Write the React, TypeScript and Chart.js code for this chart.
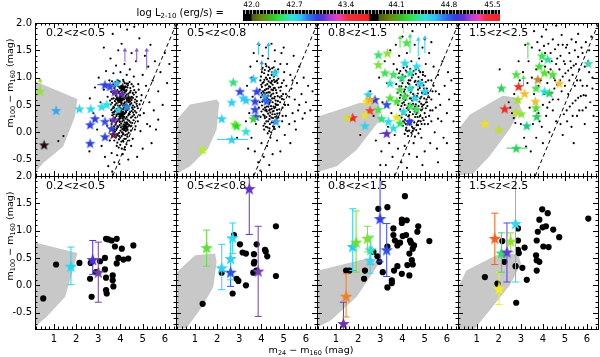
import { useEffect, useRef } from 'react';
import { Chart, registerables } from 'chart.js';
Chart.register(...registerables);

// ---------------- data ----------------
const panelLabels = ['0.2<z<0.5', '0.5<z<0.8', '0.8<z<1.5', '1.5<z<2.5'];
const cbarLabels = ['42.0', '42.7', '43.4', '44.1', '44.8', '45.5'];
const X_MIN = 0.15, X_MAX = 6.5, Y_MIN = -0.8, Y_MAX = 2.0;
const dashLineX = [3.65, 6.53];
const dashLineY = [-0.8, 2.0];

// gray model regions [x, y]
const grayTop1 = [[0, 0.96], [2.06, 0.61], [1.95, 0.29], [1.42, -0.26], [0.52, -0.56], [0.15, -0.74], [0, -0.76]];
const grayBot1 = [[0, 0.8], [2.06, 0.59], [1.85, 0.27], [1.51, -0.21], [0.67, -0.58], [0.15, -0.76], [0, -0.78]];
const grayTop2 = [[0, 0.2], [0.18, 0.23], [0.78, 0.51], [1.98, 0.6], [2.1, 0.54], [1.98, 0.05], [1.6, -0.29], [0.78, -0.62], [0.18, -0.76], [0, -0.78]];
const grayBot2 = [[0, 0.2], [0.18, 0.24], [1.01, 0.55], [1.91, 0.58], [1.98, 0.43], [1.83, -0.03], [1.31, -0.4], [0.63, -0.78], [0, -0.8]];
const grayTop3 = [[0, 0.28], [0.21, 0.29], [2.09, 0.54], [2.91, 0.54], [2.99, 0.23], [1.94, -0.32], [1.04, -0.62], [0.21, -0.72], [0, -0.75]];
const grayBot3 = [[0, 0.26], [0.21, 0.27], [2.39, 0.49], [2.99, 0.43], [1.94, -0.21], [0.78, -0.64], [0.21, -0.76], [0, -0.78]];
const grayTop4 = [[0, 0.02], [0.16, 0.05], [0.68, 0.32], [2.18, 0.67], [2.86, 0.63], [3.01, 0.42], [2.48, 0.05], [1.58, -0.44], [0.83, -0.76], [0, -0.8]];
const grayBot4 = [[0, -0.08], [0.16, -0.03], [0.53, 0.27], [1.88, 0.55], [2.86, 0.58], [3.01, 0.4], [2.5, 0.0], [1.6, -0.45], [0.9, -0.8], [0, -0.8]];

// small black dots, top row: flat x,y pairs
const dotsTop1 = [
  3.96,0.93, 4.12,0.96, 4.27,0.89, 3.81,0.87, 4.41,0.92, 4.04,0.85, 4.19,0.9, 3.88,0.95,
  3.72,0.81, 3.86,0.77, 4.01,0.83, 4.16,0.78, 4.31,0.82, 4.46,0.76, 4.58,0.84, 3.93,0.74, 4.09,0.73, 4.24,0.75,
  3.66,0.71, 3.79,0.67, 3.91,0.72, 4.03,0.65, 4.13,0.7, 4.23,0.66, 4.36,0.71, 4.51,0.65, 4.69,0.73, 3.84,0.64,
  3.61,0.61, 3.75,0.57, 3.87,0.63, 3.98,0.56, 4.09,0.62, 4.19,0.55, 4.29,0.61, 4.41,0.56, 4.56,0.63, 4.74,0.57, 4.07,0.59,
  3.56,0.51, 3.69,0.47, 3.81,0.53, 3.93,0.46, 4.04,0.52, 4.15,0.45, 4.26,0.51, 4.37,0.47, 4.49,0.53, 4.63,0.46, 4.86,0.51, 3.98,0.49, 4.2,0.48,
  3.59,0.41, 3.71,0.37, 3.83,0.43, 3.95,0.36, 4.07,0.42, 4.18,0.35, 4.3,0.41, 4.43,0.37, 4.56,0.42, 4.71,0.36, 4.01,0.39, 4.12,0.38,
  3.63,0.31, 3.76,0.27, 3.89,0.33, 4.01,0.26, 4.12,0.32, 4.23,0.25, 4.35,0.31, 4.47,0.27, 4.61,0.32, 3.95,0.29, 4.17,0.28,
  3.67,0.21, 3.8,0.17, 3.91,0.23, 4.03,0.16, 4.14,0.22, 4.26,0.15, 4.39,0.21, 4.53,0.17, 3.97,0.19, 4.08,0.2,
  3.71,0.11, 3.84,0.07, 3.96,0.13, 4.08,0.06, 4.2,0.12, 4.32,0.05, 4.46,0.11, 4.02,0.09,
  3.75,0.01, 3.88,-0.03, 4.0,0.03, 4.11,-0.04, 4.24,0.02, 4.37,-0.01, 3.94,-0.01,
  3.79,-0.09, 3.93,-0.13, 4.05,-0.07, 4.17,-0.12, 4.31,-0.08,
  3.86,-0.19, 3.99,-0.23, 4.13,-0.17, 4.27,-0.22, 3.72,-0.15,
  3.9,0.9, 4.33,0.86, 4.5,0.88, 3.76,0.84, 4.08,0.8, 4.22,0.84, 3.7,0.75, 4.0,0.7, 4.28,0.69, 4.43,0.73,
  4.6,0.69, 3.8,0.6, 3.93,0.59, 4.15,0.6, 4.35,0.58, 4.5,0.59, 4.66,0.6, 3.62,0.54, 3.76,0.5, 3.88,0.49,
  4.1,0.49, 4.31,0.49, 4.43,0.51, 4.56,0.49, 4.75,0.48, 3.65,0.44, 3.77,0.4, 3.9,0.39, 4.13,0.43, 4.24,0.39,
  4.37,0.43, 4.5,0.39, 4.65,0.39, 3.7,0.33, 3.82,0.3, 4.06,0.29, 4.28,0.28, 4.41,0.33, 4.54,0.29, 3.74,0.24,
  3.85,0.2, 3.97,0.25, 4.19,0.18, 4.32,0.23, 4.45,0.18, 3.78,0.14, 3.9,0.1, 4.14,0.14, 4.26,0.08, 4.39,0.13,
  3.81,0.04, 4.06,0.0, 4.18,0.04, 4.3,-0.04, 3.85,-0.06, 3.99,-0.1, 4.11,-0.15, 4.24,-0.12, 3.92,-0.28, 4.06,-0.3, 4.2,-0.27,
  3.58,0.74, 3.64,0.36, 3.69,0.62, 3.73,0.05, 3.77,0.92, 3.82,0.33, 3.86,0.11, 3.89,0.58, 3.94,-0.07, 3.97,0.81,
  4.01,0.44, 4.04,-0.17, 4.07,0.68, 4.1,0.25, 4.14,0.93, 4.16,0.52, 4.21,-0.05, 4.25,0.37, 4.27,0.77, 4.33,0.15,
  4.36,0.55, 4.39,-0.15, 4.42,0.64, 4.47,0.03, 4.52,0.45, 4.55,0.72, 4.59,0.22, 4.64,0.55, 4.68,0.11, 4.73,0.65,
  4.78,0.44, 4.82,0.78, 4.88,0.31, 4.93,0.58, 3.53,0.58, 3.57,0.21, 3.62,0.93, 3.66,-0.07, 3.71,0.45, 3.79,0.71,
  3.83,-0.25, 3.91,0.84, 3.96,0.2, 4.0,0.61, 4.09,0.36, 4.12,-0.02, 4.18,0.73, 4.22,0.46, 4.29,0.18, 4.34,0.89,
  4.38,0.34, 4.44,0.81, 4.49,0.12, 4.57,0.36, 4.62,0.77, 4.67,0.27, 4.72,0.52, 3.6,0.15, 3.68,0.88, 3.74,0.38,
  2.62,0.62, 2.78,0.35, 2.85,0.82, 2.95,0.05, 3.02,1.0, 3.1,0.55, 3.15,-0.25, 3.2,0.3, 3.25,0.78, 3.3,-0.45,
  3.35,1.12, 3.4,0.12, 3.42,0.65, 3.45,-0.62, 3.5,0.95, 3.52,-0.15, 3.55,1.35, 3.6,-0.38, 3.63,-0.72, 3.68,1.08,
  3.72,-0.55, 3.8,1.22, 3.85,-0.42, 3.9,1.5, 3.95,-0.58, 4.0,1.1, 4.05,1.62, 4.1,-0.4, 4.18,1.25, 4.2,-0.32,
  4.28,1.05, 4.3,1.88, 4.35,-0.5, 4.42,1.15, 4.48,-0.25, 4.5,1.45, 4.55,-0.12, 4.6,1.02, 4.65,0.05, 4.7,1.3,
  4.78,0.2, 4.8,0.88, 4.85,1.72, 4.9,0.02, 4.95,0.68, 5.0,1.05, 5.05,0.35, 5.1,1.4, 5.15,0.85, 5.2,0.15,
  5.25,1.2, 5.3,0.55, 5.35,1.6, 5.45,0.95, 5.5,0.4, 5.55,1.3, 5.6,0.05, 5.7,0.75, 5.8,1.1, 5.9,0.5,
  6.0,1.45, 6.1,0.9, 6.2,1.25, 5.4,-0.2, 5.0,-0.3, 4.75,-0.45, 3.25,1.55, 3.65,1.8, 4.62,1.93,
  1.43,-0.07, 1.2,-0.16, 2.6,-0.35, 5.33,0.11, 5.7,0.23,
];
const dotsTop2 = [
  4.05,1.18, 4.22,1.21, 4.38,1.15, 4.55,1.19, 4.12,1.08, 4.3,1.05, 4.47,1.1, 4.64,1.06, 3.98,1.02,
  3.95,0.95, 4.1,0.92, 4.25,0.97, 4.4,0.91, 4.56,0.96, 4.72,0.9, 4.18,0.86, 4.34,0.84, 4.5,0.87, 4.02,0.83,
  3.92,0.78, 4.07,0.75, 4.22,0.79, 4.37,0.73, 4.52,0.77, 4.68,0.72, 4.85,0.76, 4.15,0.7, 4.3,0.67, 4.45,0.69, 4.6,0.65,
  3.97,0.64, 4.11,0.6, 4.26,0.63, 4.41,0.58, 4.57,0.62, 4.74,0.57, 4.92,0.61, 4.2,0.54, 4.35,0.52, 4.5,0.55, 4.66,0.5,
  4.02,0.49, 4.16,0.45, 4.31,0.47, 4.46,0.43, 4.62,0.46, 4.8,0.42, 4.24,0.38, 4.4,0.36, 4.55,0.39, 4.71,0.34,
  4.08,0.32, 4.22,0.28, 4.37,0.3, 4.52,0.26, 4.68,0.29, 4.3,0.2, 4.46,0.18, 4.61,0.21, 4.15,0.16,
  4.2,0.1, 4.36,0.07, 4.52,0.11, 4.28,-0.02, 4.44,0.0,
  4.15,1.14, 4.32,1.12, 4.48,1.17, 4.62,1.13, 4.02,1.1, 4.2,1.0, 4.38,0.99, 4.56,1.02, 4.05,0.9, 4.32,0.93,
  4.47,0.94, 4.64,0.93, 4.0,0.72, 4.15,0.77, 4.3,0.8, 4.45,0.78, 4.6,0.81, 4.78,0.82, 4.04,0.56, 4.18,0.62,
  4.33,0.6, 4.48,0.62, 4.64,0.58, 4.82,0.64, 4.08,0.42, 4.24,0.47, 4.38,0.42, 4.54,0.47, 4.7,0.41, 4.15,0.26,
  4.3,0.34, 4.45,0.27, 4.6,0.33, 4.76,0.27, 4.22,0.2, 4.38,0.15, 4.54,0.18, 4.12,0.05, 4.35,0.02, 4.6,0.06,
  4.92,0.9, 5.0,0.6, 4.95,0.45, 5.1,0.3, 5.12,0.85, 5.25,0.65, 5.4,0.95, 5.5,0.2, 5.7,0.5, 5.95,0.35,
  3.92,0.55, 3.96,0.28, 4.01,1.15, 4.04,0.68, 4.09,0.12, 4.13,0.96, 4.17,0.4, 4.19,1.25, 4.23,0.72, 4.27,0.09,
  4.29,0.57, 4.33,1.19, 4.36,0.24, 4.39,0.83, 4.43,0.48, 4.46,1.05, 4.49,0.33, 4.53,0.71, 4.57,0.1, 4.59,0.92,
  4.63,0.52, 4.66,1.1, 4.69,0.25, 4.73,0.66, 4.76,0.98, 4.81,0.35, 4.84,0.55, 4.88,0.83, 4.93,0.2, 4.97,0.7,
  5.02,1.1, 5.06,0.5, 4.12,0.72, 4.26,0.88, 4.41,0.66, 4.55,0.81, 4.7,0.95, 4.08,0.59, 4.22,0.41, 4.37,0.55,
  4.51,0.38, 4.65,0.77, 3.99,0.87, 4.14,0.3, 4.31,0.73, 4.44,0.9, 4.58,0.44, 4.74,0.5, 4.9,0.66, 4.0,0.38,
  4.35,0.4, 4.62,0.28,
  3.35,0.85, 3.45,0.35, 3.5,1.2, 3.55,-0.1, 3.6,0.65, 3.65,1.45, 3.7,-0.35, 3.75,0.15, 3.8,1.3, 3.85,-0.55,
  3.88,0.45, 3.9,1.6, 4.0,-0.2, 4.05,1.4, 4.1,-0.45, 4.2,1.55, 4.25,-0.25, 4.3,1.35, 4.4,-0.1, 4.45,1.62,
  4.5,-0.4, 4.6,1.3, 4.7,-0.15, 4.75,1.15, 4.8,0.1, 4.9,1.45, 4.95,0.3, 5.0,0.95, 5.05,-0.05, 5.1,0.7,
  5.15,1.25, 5.2,0.5, 5.25,0.15, 5.3,1.05, 5.35,0.8, 5.4,0.35, 5.45,1.4, 5.5,0.6, 5.55,0.05, 5.6,0.9,
  5.65,0.4, 5.7,1.2, 5.8,0.7, 5.85,0.25, 5.9,1.0, 6.0,0.55, 6.1,0.85, 6.2,0.4, 6.3,0.75, 5.0,1.55,
  3.95,-0.7, 4.35,-0.6, 3.3,0.2, 3.4,-0.3, 5.3,-0.2, 4.85,-0.35, 3.55,1.0, 4.6,1.5, 4.85,1.25, 2.9,-0.1,
];
const dotsTop3 = [
  3.75,1.15, 3.9,1.12, 4.05,1.18, 4.2,1.1, 4.35,1.16, 4.5,1.12, 4.65,1.19, 4.8,1.1, 3.82,1.0, 3.98,0.96,
  4.12,1.02, 4.28,0.95, 4.42,1.0, 4.58,0.94, 4.72,1.01, 4.88,0.96, 5.02,1.03,
  3.72,0.88, 3.86,0.84, 4.0,0.9, 4.15,0.83, 4.3,0.88, 4.46,0.82, 4.62,0.87, 4.78,0.81, 4.95,0.86, 5.1,0.8,
  3.78,0.72, 3.92,0.68, 4.07,0.74, 4.22,0.67, 4.37,0.73, 4.53,0.66, 4.69,0.71, 4.85,0.65, 5.02,0.7, 5.2,0.64,
  3.84,0.57, 3.99,0.53, 4.13,0.59, 4.28,0.52, 4.44,0.58, 4.6,0.51, 4.76,0.56, 4.93,0.5, 5.1,0.55,
  3.9,0.42, 4.05,0.38, 4.19,0.44, 4.34,0.37, 4.5,0.43, 4.66,0.36, 4.83,0.41, 5.0,0.35,
  3.96,0.27, 4.11,0.23, 4.26,0.29, 4.41,0.22, 4.57,0.28, 4.73,0.21, 4.9,0.26,
  4.02,0.12, 4.17,0.08, 4.32,0.14, 4.48,0.07, 4.64,0.13, 4.8,0.06,
  4.1,-0.03, 4.25,-0.07, 4.4,-0.01, 4.56,-0.08, 4.72,-0.02,
  3.85,1.08, 4.0,1.05, 4.15,1.13, 4.32,1.06, 4.47,1.05, 4.6,1.07, 4.75,1.13, 4.92,1.1, 3.95,0.84, 4.1,0.78,
  4.24,0.9, 4.4,0.78, 4.55,0.92, 4.7,0.78, 4.87,0.9, 5.05,0.92, 3.88,0.63, 4.04,0.62, 4.18,0.66, 4.33,0.62,
  4.48,0.7, 4.63,0.6, 4.8,0.62, 4.98,0.62, 5.15,0.72, 3.95,0.48, 4.1,0.5, 4.25,0.46, 4.4,0.5, 4.56,0.47,
  4.72,0.48, 4.88,0.47, 5.05,0.44, 4.0,0.33, 4.16,0.32, 4.3,0.31, 4.47,0.33, 4.62,0.33, 4.8,0.3, 4.95,0.22,
  4.08,0.18, 4.22,0.2, 4.38,0.18, 4.53,0.18, 4.7,0.13, 4.86,0.15, 4.15,0.04, 4.3,0.03, 4.46,0.02, 4.62,0.04,
  5.2,0.3, 5.3,0.6, 5.4,0.85, 5.5,0.45, 5.6,0.25, 5.65,0.7,
  3.8,0.5, 3.93,0.95, 4.03,0.2, 4.12,0.7, 4.2,1.2, 4.27,0.41, 4.35,0.95, 4.43,0.1, 4.52,0.62, 4.6,1.15,
  4.68,0.28, 4.76,0.85, 4.84,0.52, 4.92,1.05, 5.0,0.15, 5.08,0.6, 5.16,0.95, 5.25,0.4, 4.06,0.55, 4.22,0.02,
  4.38,0.62, 4.55,0.38, 4.71,0.93, 4.88,0.72, 5.05,0.28, 3.86,0.3, 4.0,1.0, 4.15,0.15, 4.31,0.78, 4.48,0.52,
  4.65,0.66, 4.82,0.2, 4.97,0.8, 5.12,0.48, 5.3,0.2, 5.35,0.75,
  2.55,0.75, 2.7,0.3, 2.8,-0.15, 2.95,1.0, 3.05,-0.35, 3.1,0.55, 3.2,1.3, 3.25,-0.6, 3.3,0.9, 3.4,-0.2,
  3.45,1.5, 3.5,0.35, 3.55,-0.45, 3.6,1.25, 3.65,-0.05, 3.7,1.6, 3.8,-0.3, 3.85,1.4, 3.95,-0.55, 4.0,1.75,
  4.1,-0.25, 4.2,1.45, 4.3,-0.4, 4.4,1.3, 4.5,-0.2, 4.55,1.6, 4.65,-0.45, 4.75,1.35, 4.85,-0.1, 4.9,1.55,
  5.0,-0.35, 5.05,1.25, 5.15,0.15, 5.2,1.45, 5.25,-0.2, 5.3,0.95, 5.35,0.4, 5.4,1.2, 5.45,0.0, 5.5,0.75,
  5.55,-0.3, 5.6,1.05, 5.7,0.5, 5.75,0.2, 5.8,1.3, 5.85,-0.1, 5.9,0.85, 6.0,0.35, 6.05,1.1, 6.1,0.6,
  6.2,0.95, 6.3,0.2, 6.35,0.7, 5.0,1.7, 4.45,1.85, 5.3,1.65, 3.35,0.1, 2.1,-0.05, 3.0,-0.6, 4.2,-0.65,
  5.6,-0.55, 4.9,-0.6, 6.0,-0.2,
];
const dotsTop4 = [
  4.4,0.72, 4.52,0.8, 4.65,0.87, 4.78,0.95, 4.9,1.02, 5.02,1.08, 5.15,1.13, 5.28,1.18, 5.4,1.22, 5.5,1.25,
  4.95,0.33, 5.08,0.4, 5.22,0.47, 5.35,0.53, 5.48,0.58, 5.6,0.63, 5.72,0.66, 5.85,0.68, 5.95,0.67,
  2.45,0.55, 2.52,0.45, 2.6,0.35, 2.68,0.26, 2.75,0.17,
  2.04,1.15, 3.24,-0.26, 3.5,1.55, 3.6,1.85, 3.75,1.65, 3.85,1.5, 3.95,1.75, 4.05,1.58, 4.15,1.88, 4.25,1.62,
  4.35,1.45, 4.45,1.7, 4.55,1.52, 4.6,1.25, 4.7,1.6, 4.8,1.4, 4.85,1.78, 4.95,1.3, 5.05,1.55, 5.2,1.45,
  5.3,1.7, 5.45,1.5, 5.6,1.38, 5.75,1.55, 5.9,1.2, 6.1,1.5, 3.5,1.0, 3.6,0.7, 3.7,1.15, 3.8,0.35,
  3.9,0.95, 4.0,0.5, 4.1,1.2, 4.15,0.3, 4.2,0.9, 4.3,0.55, 4.35,1.15, 4.45,0.4, 4.5,1.0, 4.6,0.2,
  4.7,0.6, 4.8,0.15, 4.85,0.75, 5.0,0.85, 5.1,0.2, 5.2,0.95, 5.3,0.1, 5.45,0.85, 5.55,0.3, 5.7,0.95,
  5.8,0.4, 5.9,0.15, 6.0,0.85, 6.15,0.55, 6.25,1.0, 3.3,0.9, 3.4,0.45, 3.35,1.3, 3.1,1.1, 3.0,0.15,
  3.15,-0.1, 3.45,-0.35, 3.7,-0.1, 4.0,-0.2, 4.3,0.0, 3.95,0.1, 3.55,0.15, 4.9,-0.05, 5.4,-0.2, 2.9,1.3,
  3.2,1.6, 2.95,0.95, 5.6,1.8, 4.6,1.95, 4.05,0.7, 3.65,0.4, 3.85,0.2, 2.7,0.7,
  5.1,1.6, 5.25,1.3, 5.35,1.05, 5.5,1.65, 5.65,1.15, 5.8,1.45, 5.95,1.65, 6.05,1.3, 6.2,1.75, 5.0,1.25,
  4.75,1.15, 4.9,1.6, 5.55,0.95, 5.8,0.85, 6.1,1.1, 4.4,1.3, 4.25,1.1, 4.55,0.95, 4.65,1.35, 3.95,1.3,
  4.1,1.45, 3.8,0.85, 4.45,0.6, 4.2,0.45, 5.15,0.7, 5.35,0.3, 5.65,0.4, 5.95,0.45, 6.25,0.8, 6.3,0.3,
];

// large black dots, bottom row
const dotsBot1 = [
  0.52,-0.24, 1.1,0.38, 2.15,0.41, 2.66,0.41, 2.63,0.12, 2.7,-0.21, 2.9,0.24, 3.08,0.44, 3.3,0.5, 3.35,0.85,
  3.45,0.84, 3.6,0.82, 3.83,0.85, 3.75,0.71, 4.06,0.67, 4.58,0.73, 3.3,0.29, 3.35,0.14, 3.65,0.18, 3.65,0.09,
  3.68,-0.02, 3.35,-0.09, 3.38,-0.15, 3.83,0.4, 3.9,0.5, 4.13,0.47, 4.35,0.49,
];
const dotsBot2 = [
  1.35,-0.34, 2.21,0.23, 2.76,0.92, 3.03,0.75, 3.15,0.6, 3.3,0.58, 2.88,0.12, 2.96,0.08, 2.7,-0.15, 3.3,0.0,
  3.66,0.57, 3.68,0.43, 3.66,0.4, 3.63,0.23, 3.78,0.75, 4.16,0.65, 4.19,0.62, 4.26,0.53, 4.65,1.08, 4.65,0.17,
  3.77,0.27,
];
const dotsBot3 = [
  4.11,1.63, 2.91,1.4, 3.32,1.43, 3.97,1.2, 4.19,1.19, 4.71,1.08, 3.97,1.14, 3.59,1.04, 4.67,0.98, 5.21,0.81,
  3.59,0.92, 3.66,0.82, 4.01,0.9, 4.16,0.92, 4.34,0.82, 4.38,0.78, 3.89,0.78, 4.46,0.67, 4.31,0.58, 4.52,0.73,
  3.32,0.71, 2.69,0.61, 2.87,0.53, 2.96,0.43, 3.77,0.73, 4.42,0.46, 4.22,0.37, 4.46,0.38, 3.77,0.35, 3.62,0.27,
  3.52,0.09, 3.52,0.04, 3.32,-0.04, 3.97,0.21, 4.31,0.18, 3.11,0.24, 2.27,0.12, 2.31,0.27, 1.46,0.27, 1.61,0.27,
];
const dotsBot4 = [
  3.97,1.39, 4.22,1.32, 6.06,1.22, 3.84,1.2, 3.99,1.06, 4.14,1.08, 3.77,0.98, 4.47,1.02, 4.74,0.88, 3.72,0.82,
  4.02,0.71, 4.26,0.7, 2.87,1.04, 2.87,0.82, 2.87,0.65, 2.91,0.59, 3.17,0.69, 2.16,0.81, 2.25,0.43, 2.76,0.35,
  3.07,0.32, 3.69,0.55, 3.72,0.46, 3.84,0.43, 3.72,0.27, 3.27,0.1, 1.37,0.15, 1.94,0.03, 2.79,-0.32,
];

// stars, top row: [x, y, colour]
const starsTop1 = [
  [0.38, 0.75, '#90e040'], [1.1, 0.4, '#30a8f0'], [0.56, -0.23, '#200810'],
  [2.15, 0.43, '#30d8f0'], [2.66, 0.43, '#30d8f0'], [3.15, 0.47, '#30e0e8'], [3.38, 0.51, '#30e0e8'],
  [3.9, 0.41, '#30d0e8'], [3.83, 0.9, '#30b8f0'], [4.28, 0.47, '#2888f0'], [3.3, 0.87, '#3040e8'],
  [3.53, 0.84, '#3848e0'], [3.75, 0.74, '#6030b0'], [4.06, 0.7, '#6030b0'], [2.85, 0.25, '#3040e8'],
  [2.63, 0.14, '#3040e8'], [3.3, 0.2, '#3850f0'], [3.68, 0.23, '#6830b0'], [3.6, 0.07, '#3040e0'],
  [3.3, -0.08, '#3040e0'], [3.68, -0.04, '#602050'], [2.63, -0.2, '#3040e8'],
  [4.1, 0.82, '#000000'], [4.05, 0.33, '#000000'], [4.22, 0.1, '#000000'], [3.97, 0.6, '#000000'], [4.35, 0.62, '#101010'],
];
const starsTop2 = [
  [2.73, 0.92, '#30e080'], [3.03, 0.75, '#3048e8'], [3.18, 0.63, '#30d0f0'], [3.3, 0.59, '#30c8f0'],
  [2.66, 0.55, '#30d0f0'], [2.21, 0.25, '#30d0f0'], [2.8, 0.15, '#80e030'], [2.88, 0.12, '#20e020'],
  [3.3, 0.02, '#30e0d0'], [2.66, -0.13, '#30d0f0'], [1.35, -0.32, '#b0f020'], [3.79, 0.75, '#3040e8'],
  [3.71, 0.57, '#3040e8'], [3.71, 0.42, '#3048e8'], [3.75, 0.29, '#3050e8'], [3.63, 0.25, '#40d040'],
  [4.16, 0.66, '#30a0f0'], [4.23, 0.57, '#3060f0'], [4.61, 1.09, '#30d0f0'], [4.65, 0.2, '#30a0f0'],
  [3.63, 0.98, '#30c0f0'],
];
const starsTop3 = [
  [2.91, 1.42, '#40e070'], [3.32, 1.45, '#90e030'], [2.91, 1.24, '#80e040'], [4.19, 1.64, '#50e050'],
  [3.59, 1.06, '#40e060'], [3.97, 1.0, '#30e080'], [4.34, 1.09, '#30e0b0'], [4.79, 0.9, '#30d0f0'],
  [5.01, 0.75, '#30d0f0'], [3.89, 0.78, '#50e050'], [4.34, 0.81, '#30e0c0'], [4.56, 0.63, '#30d0f0'],
  [4.11, 0.66, '#40e050'], [3.74, 0.57, '#50e040'], [4.34, 0.48, '#40e060'], [4.04, 0.38, '#30d8e8'],
  [4.64, 0.42, '#40e060'], [2.46, 0.69, '#30d0f0'], [2.76, 0.6, '#3040e0'], [2.39, 0.57, '#f0e020'],
  [2.54, 0.6, '#f0b020'], [2.54, 0.4, '#f04020'], [2.31, 0.32, '#e8e030'], [1.76, 0.27, '#f02820'],
  [1.51, 0.27, '#d0e030'], [2.31, 0.12, '#30d0f0'], [2.91, 0.42, '#50e050'], [3.06, 0.25, '#30e070'],
  [3.36, 0.2, '#30d8f0'], [3.29, 0.51, '#3050f0'], [3.29, -0.02, '#6030c0'], [4.31, 0.2, '#3040f0'],
  [3.74, 0.28, '#e8e020'], [3.89, 0.17, '#30e060'], [3.59, 0.08, '#30e0e0'], [3.21, 1.09, '#40e050'],
  [3.44, 0.63, '#50e040'], [4.64, 1.21, '#30d8f0'], [4.11, 1.27, '#30d8e0'], [3.44, 0.9, '#30e0c0'],
];
const starsTop4 = [
  [2.12, 0.81, '#30d060'], [2.9, 0.84, '#f03020'], [2.87, 0.6, '#a0e020'], [3.17, 0.71, '#f0c030'],
  [2.27, 0.43, '#f02820'], [2.79, 0.37, '#c0e030'], [3.02, 0.34, '#90e040'], [1.37, 0.16, '#f0e020'],
  [2.01, 0.05, '#c0e030'], [3.27, 0.12, '#20c880'], [2.79, -0.29, '#30d060'], [3.72, 0.29, '#30d060'],
  [3.69, 0.45, '#50e040'], [3.66, 0.57, '#f0c030'], [2.79, 1.06, '#50e040'], [3.84, 1.21, '#40e040'],
  [3.96, 1.4, '#40e050'], [4.22, 1.34, '#30e0a0'], [3.77, 0.97, '#c08830'], [4.07, 1.09, '#60e030'],
  [4.07, 0.75, '#30e0e0'], [4.29, 0.72, '#30d060'], [4.44, 1.06, '#50e040'], [4.74, 0.9, '#f0c030'],
  [6.06, 1.26, '#40d8b0'], [3.69, 0.81, '#50e050'],
];

// upward arrows (limits): [x, base y, tip y, colour]
const arrowsTop1 = [[0.38, 0.78, 0.95, '#90e040'], [4.2, 1.29, 1.5, '#8060c8'], [4.73, 1.29, 1.5, '#8060c8'], [5.18, 1.15, 1.5, '#8060c8']];
const arrowsTop2 = [[3.86, 1.42, 1.62, '#40b0f0'], [4.31, 1.38, 1.6, '#40b0f0'], [4.01, 1.12, 1.27, '#4090f0']];
const arrowsTop3 = [[4.04, 1.82, 2.1, '#e0e020'], [4.34, 1.45, 1.76, '#40e080'], [4.71, 1.39, 1.7, '#40d0e0'], [5.01, 1.45, 1.73, '#40c8f0'], [3.89, 1.55, 1.73, '#50e050']];
const arrowsTop4 = [[3.32, 1.35, 1.62, '#50e050'], [3.12, 0.84, 1.0, '#50e050']];

// horizontal error bars: [y, x low, x high, colour]
const hErrTop1 = [[0.87, 2.95, 3.65, '#3040e8']];
const hErrTop2 = [[-0.13, 2.0, 3.4, '#30d0f0']];
const hErrTop3 = [[-0.02, 2.95, 3.4, '#6030c0']];
const hErrTop4 = [[-0.29, 2.35, 3.3, '#30d060']];

// stars with vertical error bars, bottom row: [x, y, low, high, colour]
const starsBot1 = [[1.77, 0.35, 0.01, 0.7, '#20d8f0'], [2.75, 0.47, 0.2, 0.82, '#5030d0'], [3.0, 0.24, -0.31, 0.79, '#7040a0']];
const starsBot2 = [
  [1.53, 0.69, 0.35, 1.01, '#60e040'], [2.21, 0.32, -0.08, 0.75, '#30d0f0'], [2.7, 0.87, 0.58, 1.14, '#30d8f0'],
  [2.61, 0.49, 0.1, 0.87, '#30d0f0'], [2.61, 0.24, -0.02, 0.49, '#3050e8'], [3.45, 1.77, 0.93, 2.3, '#6030d0'],
  [3.85, 0.26, -0.57, 1.08, '#7040b0'],
];
const starsBot3 = [
  [1.46, -0.2, -0.58, 0.21, '#f08020'], [1.34, -0.7, -0.95, -0.31, '#7030b0'], [1.76, 0.71, 0.27, 1.4, '#20d0f0'],
  [1.91, 0.79, 0.24, 1.36, '#70e030'], [2.42, 0.86, 0.61, 1.08, '#80e030'], [2.57, 0.65, 0.38, 0.9, '#30e0c0'],
  [2.54, 0.46, 0.22, 0.7, '#40d0f0'], [2.99, 1.22, 0.43, 2.3, '#3040f0'], [3.29, 0.65, 0.16, 1.13, '#3050e0'],
];
const starsBot4 = [
  [1.82, 0.86, 0.38, 1.32, '#f06020'], [2.12, 0.59, 0.24, 0.96, '#30e060'], [2.37, 0.61, 0.06, 1.14, '#6040d0'],
  [2.54, 0.81, 0.61, 0.96, '#90e030'], [2.76, 1.13, 0.06, 2.3, '#30d8f0'], [2.01, -0.06, -0.35, 0.24, '#f0f020'],
];

const topPanels = [
  { gray: grayTop1, dots: dotsTop1, stars: starsTop1, arrows: arrowsTop1, hErr: hErrTop1 },
  { gray: grayTop2, dots: dotsTop2, stars: starsTop2, arrows: arrowsTop2, hErr: hErrTop2 },
  { gray: grayTop3, dots: dotsTop3, stars: starsTop3, arrows: arrowsTop3, hErr: hErrTop3 },
  { gray: grayTop4, dots: dotsTop4, stars: starsTop4, arrows: arrowsTop4, hErr: hErrTop4 },
];
const botPanels = [
  { gray: grayBot1, dots: dotsBot1, stars: starsBot1 },
  { gray: grayBot2, dots: dotsBot2, stars: starsBot2 },
  { gray: grayBot3, dots: dotsBot3, stars: starsBot3 },
  { gray: grayBot4, dots: dotsBot4, stars: starsBot4 },
];

// ---------------- layout / style ----------------
const COL_LEFT = [35, 176, 317, 458];
const COL_W = [141, 141, 141, 140];
const ROW_TOP = [23, 176];
const PANEL_H = 153;
const W = 600, H = 357;
const FONT = "'DejaVu Sans', 'Liberation Sans', Arial, sans-serif";

const starCache: Record<string, HTMLCanvasElement> = {};
function starImg(color: string, size: number) {
  const key = color + '_' + size;
  if (starCache[key]) return starCache[key];
  const c = document.createElement('canvas');
  c.width = size; c.height = size;
  const g = c.getContext('2d')!;
  const R = size / 2;
  const r = R * 0.42;
  const cx = size / 2;
  const cy = R + (size - 1.81 * R) / 2;
  g.beginPath();
  for (let i = 0; i < 10; i++) {
    const a = -Math.PI / 2 + (i * Math.PI) / 5;
    const rr = i % 2 === 0 ? R : r;
    g.lineTo(cx + rr * Math.cos(a), cy + rr * Math.sin(a));
  }
  g.closePath();
  g.fillStyle = color;
  g.fill();
  starCache[key] = c;
  return c;
}

const pairs = (a: number[]) => {
  const out: { x: number; y: number }[] = [];
  for (let i = 0; i < a.length; i += 2) out.push({ x: a[i], y: a[i + 1] });
  return out;
};

const framePlugin = {
  id: 'idlFrame',
  afterDraw(chart: any) {
    const { ctx, chartArea: a } = chart;
    const xs = chart.scales.x, ys = chart.scales.y;
    ctx.save();
    ctx.strokeStyle = '#000';
    ctx.lineWidth = 1;
    ctx.strokeRect(a.left + 0.5, a.top + 0.5, a.right - a.left, a.bottom - a.top);
    ctx.beginPath();
    for (let i = 1; i <= 32; i++) {
      const v = i * 0.2;
      if (v <= X_MIN || v >= X_MAX) continue;
      const len = i % 5 === 0 ? 5 : 2.5;
      const px = Math.round(xs.getPixelForValue(v)) + 0.5;
      ctx.moveTo(px, a.bottom); ctx.lineTo(px, a.bottom - len);
      ctx.moveTo(px, a.top); ctx.lineTo(px, a.top + len);
    }
    for (let i = -7; i <= 19; i++) {
      const v = i / 10;
      const len = i % 5 === 0 ? 5 : 2.5;
      const py = Math.round(ys.getPixelForValue(v)) + 0.5;
      ctx.moveTo(a.left, py); ctx.lineTo(a.left + len, py);
      ctx.moveTo(a.right, py); ctx.lineTo(a.right - len, py);
    }
    ctx.stroke();
    ctx.restore();
  },
};

function buildDatasets(p: any, isTop: boolean) {
  const ds: any[] = [];
  ds.push({
    type: 'line', data: p.gray.map(([x, y]: number[]) => ({ x, y })), fill: 'shape',
    backgroundColor: '#c8c8c8', borderWidth: 0, borderColor: 'rgba(0,0,0,0)', pointRadius: 0, order: 10,
  });
  if (isTop) {
    ds.push({
      type: 'line', data: dashLineX.map((x, i) => ({ x, y: dashLineY[i] })), fill: false,
      borderColor: '#000', borderWidth: 1, borderDash: [4, 3], pointRadius: 0, order: 9,
    });
  }
  ds.push({
    data: pairs(p.dots), backgroundColor: '#000', borderWidth: 0,
    pointRadius: isTop ? 1.1 : 3.1, order: 8,
  });
  if (isTop) {
    for (const [y, x0, x1, c] of p.hErr) {
      ds.push({ type: 'line', data: [{ x: x0, y }, { x: x1, y }], borderColor: c, borderWidth: 1, pointRadius: 0, fill: false, order: 3 });
    }
    for (const [x, y0, y1, c] of p.arrows) {
      ds.push({
        type: 'line', data: [{ x, y: y0 }, { x, y: y1 }], borderColor: c, borderWidth: 1, fill: false,
        pointStyle: 'triangle', pointRadius: [0, 2.6], pointBackgroundColor: c, pointBorderColor: c, pointBorderWidth: 0, order: 3,
      });
    }
    ds.push({
      data: p.stars.map((s: any[]) => ({ x: s[0], y: s[1] })),
      pointStyle: p.stars.map((s: any[]) => starImg(s[2], 11)), pointRadius: 5, order: 0,
    });
  } else {
    for (const [x, , lo, hi, c] of p.stars) {
      ds.push({
        type: 'line', data: [{ x, y: lo }, { x, y: hi }], borderColor: c, borderWidth: 1, fill: false,
        pointStyle: 'line', pointRadius: 3.5, pointBorderColor: c, pointBorderWidth: 1, order: 3,
      });
    }
    ds.push({
      data: p.stars.map((s: any[]) => ({ x: s[0], y: s[1] })),
      pointStyle: p.stars.map((s: any[]) => starImg(s[4], 13)), pointRadius: 6, order: 0,
    });
  }
  return ds;
}

function makeConfig(row: number, col: number): any {
  const L = COL_LEFT[col], PW = COL_W[col], T = ROW_TOP[row];
  const isTop = row === 0;
  const showX = !isTop;
  const showY = col === 0;
  const p = isTop ? topPanels[col] : botPanels[col];
  const xAxis: any = {
    type: 'linear', position: 'bottom', min: X_MIN, max: X_MAX, display: showX,
    grid: { display: false, drawTicks: false }, border: { display: false },
    ticks: { stepSize: 1, includeBounds: false, color: '#000', font: { family: FONT, size: 10 }, padding: 4, maxRotation: 0, autoSkip: false },
  };
  if (showX) xAxis.afterFit = (s: any) => { s.height = H - (ROW_TOP[1] + PANEL_H); };
  const yAxis: any = {
    type: 'linear', position: 'left', min: Y_MIN, max: Y_MAX, display: showY,
    grid: { display: false, drawTicks: false }, border: { display: false },
    ticks: { stepSize: 0.5, includeBounds: false, color: '#000', font: { family: FONT, size: 10 }, padding: 3, autoSkip: false,
      callback: (v: any) => Number(v).toFixed(1) },
  };
  if (showY) yAxis.afterFit = (s: any) => { s.width = COL_LEFT[0]; };
  return {
    type: 'scatter',
    data: { datasets: buildDatasets(p, isTop) },
    options: {
      responsive: false, animation: false, events: [], devicePixelRatio: 1,
      layout: {
        autoPadding: false,
        padding: { left: showY ? 0 : L, right: W - (L + PW), top: T, bottom: showX ? 0 : H - (T + PANEL_H) },
      },
      plugins: { legend: { display: false }, tooltip: { enabled: false } },
      scales: { x: xAxis, y: yAxis },
    },
    plugins: [framePlugin],
  };
}

const cbarGradient =
  'linear-gradient(90deg, #000 0px, #000 8px, #4a5a10 9px, #6a8a10 19px, #40b020 26px, #30e040 36px, #30e090 42px, #30e0e0 50px, #30c0f0 58px, #3080f0 64px, #3040e0 74px, #6030d0 80px, #b040d8 88px, #f040b0 96px, #f03040 104px, #f02020 126px, #000 127px, #000 135px, #4a5a10 136px, #6a8a10 148px, #40b020 156px, #30e040 166px, #30e090 174px, #30e0e0 182px, #30c0f0 192px, #3080f0 200px, #3040e0 212px, #6030d0 220px, #b040d8 228px, #f040b0 236px, #f03040 242px, #f02020 257px)';
const cbarLabelX = [251.5, 294.5, 346, 396.5, 449, 492.5];

export default function App() {
  const refs = useRef<(HTMLCanvasElement | null)[]>([]);
  useEffect(() => {
    const charts: Chart[] = [];
    for (let r = 0; r < 2; r++) {
      for (let c = 0; c < 4; c++) {
        const cv = refs.current[r * 4 + c];
        if (cv) charts.push(new Chart(cv, makeConfig(r, c)));
      }
    }
    return () => charts.forEach((ch) => ch.destroy());
  }, []);

  const abs = (s: any) => ({ position: 'absolute', ...s } as any);
  const sub = { fontSize: 6.5, verticalAlign: '-2px', lineHeight: 0 };
  return (
    <div style={{ position: 'fixed', left: 0, top: 0, width: W, height: H, background: '#fff', overflow: 'hidden', fontFamily: FONT, color: '#000' }}>
      {Array.from({ length: 8 }).map((_, i) => (
        <canvas key={i} ref={(el) => { refs.current[i] = el; }} width={W} height={H}
          style={abs({ left: 0, top: 0, width: W, height: H })} />
      ))}
      {/* colour bar header */}
      <div style={abs({ right: W - 224, top: 8, fontSize: 10, lineHeight: '10px', whiteSpace: 'nowrap' })}>
        log L<sub style={{ fontSize: 7, verticalAlign: '-2px', lineHeight: 0 }}>2-10</sub> (erg/s) =
      </div>
      <div style={abs({ left: 243, top: 10, width: 257, height: 4, background: 'repeating-linear-gradient(90deg, #000 0px, #000 2px, #bbb 2px, #bbb 3px, #000 3px, #000 6px, #777 6px, #777 7px)' })} />
      <div style={abs({ left: 243, top: 14, width: 257, height: 7, background: cbarGradient })} />
      {cbarLabels.map((t, i) => (
        <div key={t} style={abs({ left: cbarLabelX[i], top: 1, fontSize: 7.5, lineHeight: '8px', transform: 'translateX(-50%)', whiteSpace: 'nowrap' })}>{t}</div>
      ))}
      {/* panel labels */}
      {[0, 1].map((r) => panelLabels.map((t, c) => (
        <div key={r + '-' + c} style={abs({ left: COL_LEFT[c] + 11, top: ROW_TOP[r] + 4, fontSize: 11, lineHeight: '12px', whiteSpace: 'nowrap' })}>{t}</div>
      )))}
      {/* y axis titles */}
      {[83, 236].map((cy) => (
        <div key={cy} style={abs({ left: 10, top: cy, fontSize: 9.5, lineHeight: '10px', whiteSpace: 'nowrap', transform: 'translate(-50%, -50%) rotate(-90deg)' })}>
          m<sub style={sub}>100</sub> − m<sub style={sub}>160</sub> (mag)
        </div>
      ))}
      {/* x axis title */}
      <div style={abs({ left: 311, top: 350, fontSize: 9.5, lineHeight: '10px', whiteSpace: 'nowrap', transform: 'translate(-50%, -50%)' })}>
        m<sub style={sub}>24</sub> − m<sub style={sub}>160</sub> (mag)
      </div>
    </div>
  );
}
